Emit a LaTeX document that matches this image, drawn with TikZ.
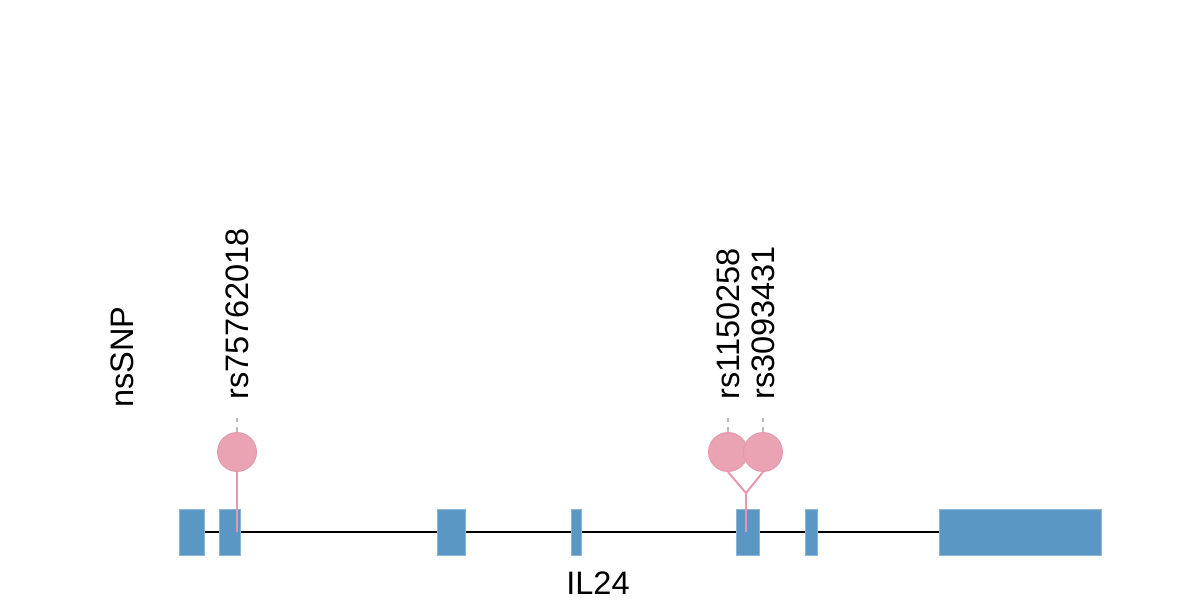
\documentclass[tikz,border=0pt]{standalone}
\usepackage{fontspec}
\setmainfont{Liberation Sans}
\usetikzlibrary{positioning}
\definecolor{exonblue}{HTML}{5B97C4}
\definecolor{snppink}{HTML}{E9A3B3}
\definecolor{snpedge}{HTML}{E497AA}
\definecolor{tickgrey}{HTML}{BBBBBB}
\tikzset{
  exon/.style={fill=exonblue, draw=exonblue!70!white, line width=0.4pt},
  snp/.style={circle, fill=snppink, draw=snpedge, line width=0.5pt, minimum size=0.78cm, inner sep=0pt},
  stem/.style={draw=snpedge, line width=1.1pt},
  snplabel/.style={rotate=90, anchor=west, inner sep=0pt, font=\fontsize{18.5}{20}\selectfont},
  tick/.style={draw=tickgrey, line width=0.8pt, dash pattern=on 3pt off 3pt}
}
\begin{document}
\begin{tikzpicture}[x=0.02cm, y=-0.02cm]
  \useasboundingbox (0,0) rectangle (1200,600);
  % gene body
  \draw[line width=1.3pt] (204,532) -- (939,532);
  % exons
  \fill[exon] (179,509) rectangle (204,555);
  \fill[exon] (219,509) rectangle (240,555);
  \fill[exon] (437,509) rectangle (465,555);
  \fill[exon] (571,509) rectangle (581,555);
  \fill[exon] (736,509) rectangle (759,555);
  \fill[exon] (805,509) rectangle (817,555);
  \fill[exon] (939,509) rectangle (1101,555);
  % lollipops
  \node[snp] (snpA) at (237,452) {};
  \node[snp] (snpB) at (728,452) {};
  \node[snp] (snpC) at (763,452) {};
  % stems
  \coordinate (base1) at (237,532);
  \coordinate (base2) at (746,532);
  \coordinate (fork2) at (746,493);
  \draw[stem] (base1) -- (snpA.south);
  \draw[stem] (base2) -- (fork2) -- (snpB.south);
  \draw[stem] (fork2) -- (snpC.south);
  % ticks and labels
  \foreach \s/\x/\t in {snpA/237/rs75762018, snpB/728/rs1150258, snpC/763/rs3093431}{
    \coordinate (\s top) at (\x,418);
    \draw[tick] (\s.north) -- (\s top);
    \node[snplabel] (\s lab) at (\x,400) {\t};
  }
  % track and gene names
  \node[snplabel] (track) at (122,408) {nsSNP};
  \node[font=\fontsize{18.5}{20}\selectfont] (gene) at (598,583) {IL24};
\end{tikzpicture}
\end{document}
